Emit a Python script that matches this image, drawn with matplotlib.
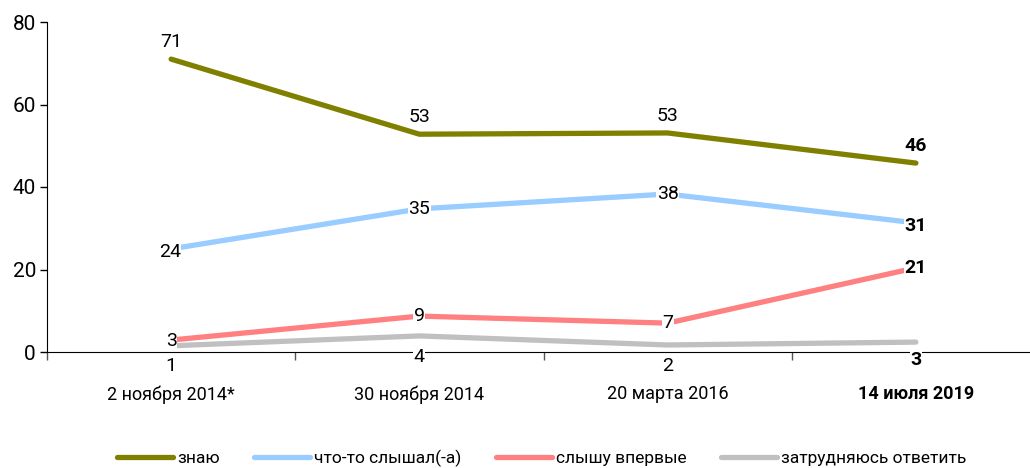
import matplotlib
matplotlib.use("Agg")
import matplotlib.pyplot as plt

categories = ["2 ноября 2014*", "30 ноября 2014", "20 марта 2016", "14 июля 2019"]
series_names = ["знаю", "что-то слышал(-а)", "слышу впервые", "затрудняюсь ответить"]
znayu = [71.0, 52.8, 53.1, 45.8]
slyshal = [25.0, 34.7, 38.3, 31.3]
vpervye = [2.9, 8.7, 7.0, 20.4]
zatrud = [1.5, 3.9, 1.7, 2.4]
znayu_lbl = [71, 53, 53, 46]
slyshal_lbl = [24, 35, 38, 31]
vpervye_lbl = [3, 9, 7, 21]
zatrud_lbl = [1, 4, 2, 3]
yticks = [0, 20, 40, 60, 80]

plt.rcParams["font.family"] = ["Roboto", "DejaVu Sans"]

colors = ["#808000", "#99CCFF", "#FF8080", "#C0C0C0"]

fig = plt.figure(figsize=(10.30, 4.68), dpi=100)
ax = fig.add_axes([47/1030, 116/468, (1040-47)/1030, 330/468])
x = list(range(len(categories)))
all_vals = [znayu, slyshal, vpervye, zatrud]
handles = []
for vals, c, n in zip(all_vals, colors, series_names):
    h, = ax.plot(x, vals, color=c, lw=3.8, solid_capstyle="round", label=n, zorder=3)
    handles.append(h)

ax.set_xlim(-0.5, 3.5)
ax.set_ylim(0, 80)
ax.set_yticks(yticks)
ax.tick_params(axis="y", labelsize=15, length=5, width=1, pad=3)
ax.set_xticks([-0.5, 0.5, 1.5, 2.5, 3.5])
ax.set_xticklabels([])
ax.tick_params(axis="x", length=6, width=1, direction="out", color="#555555")
ax.set_xticks(x, minor=True)
ax.set_xticklabels(categories, minor=True, fontsize=13)
ax.tick_params(axis="x", which="minor", length=0, pad=24)
for lab in ax.get_xticklabels(minor=True)[3:]:
    lab.set_fontweight("bold")
for s in ["top", "right"]:
    ax.spines[s].set_visible(False)

fs = 14
box = dict(fc="white", ec="none", pad=0.3)
def w(i):
    return "bold" if i == 3 else "normal"

# знаю labels: above the line
for i, (v, l) in enumerate(zip(znayu, znayu_lbl)):
    ax.annotate(str(l), (i, v), xytext=(0, 6), textcoords="offset points",
                ha="center", va="bottom", fontsize=fs, fontweight=w(i))
# слышал labels: on the points
offs = [(-1, -2), (0, 0), (0, 0), (0, -2)]
for i, (v, l) in enumerate(zip(slyshal, slyshal_lbl)):
    ax.annotate(str(l), (i, v), xytext=offs[i], textcoords="offset points",
                ha="center", va="center", fontsize=fs, fontweight=w(i), zorder=5, bbox=box)
offs = [(0, -1), (0, 0), (0, 0), (0, 0)]
for i, (v, l) in enumerate(zip(vpervye, vpervye_lbl)):
    ax.annotate(str(l), (i, v), xytext=offs[i], textcoords="offset points",
                ha="center", va="center", fontsize=fs, fontweight=w(i), zorder=5, bbox=box)
# затрудняюсь labels: just under the axis
offs = [(0, -10), (0, -3.6), (0, -10), (0, -6)]
for i, (v, l) in enumerate(zip(zatrud, zatrud_lbl)):
    ax.annotate(str(l), (i, 0), xytext=offs[i], textcoords="offset points",
                ha="center", va="center", fontsize=fs, fontweight=w(i),
                annotation_clip=False, zorder=5, bbox=box)

fig.legend(handles=handles, labels=series_names, loc="center", bbox_to_anchor=(0.526, 10/468),
           ncol=4, frameon=False, fontsize=12.5, handlelength=3.2, handletextpad=0.25,
           columnspacing=2.0, borderaxespad=0)

fig.savefig("out.png", dpi=100)
